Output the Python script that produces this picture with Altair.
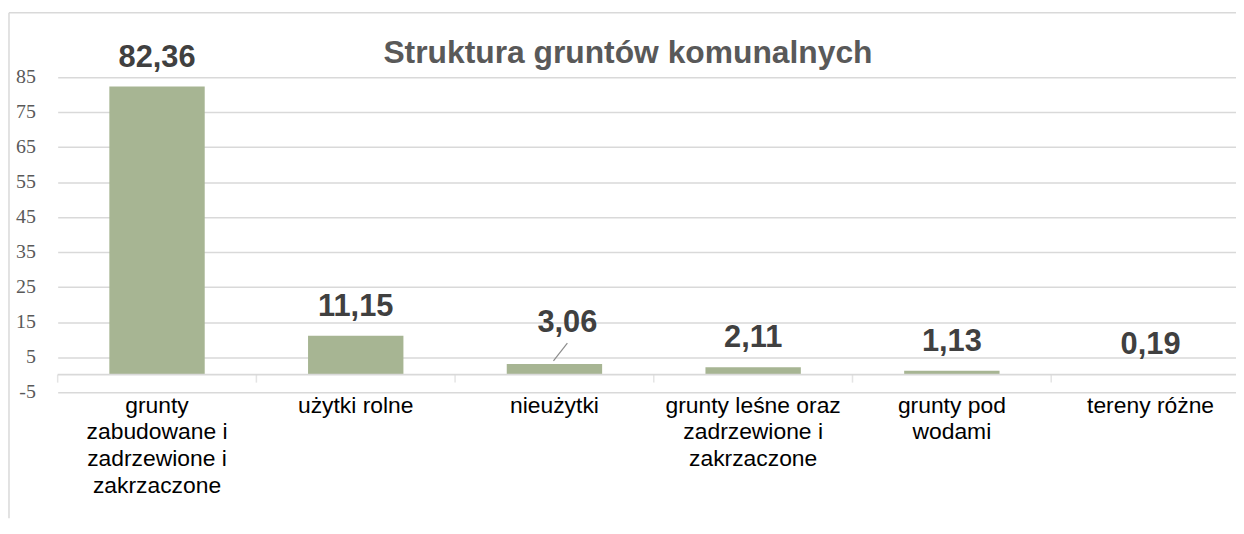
import altair as alt
import pandas as pd

# ---- data ----
categories = [
    "grunty|zabudowane i|zadrzewione i|zakrzaczone",
    "użytki rolne",
    "nieużytki",
    "grunty leśne oraz|zadrzewione i|zakrzaczone",
    "grunty pod|wodami",
    "tereny różne",
]
values = [82.36, 11.15, 3.06, 2.11, 1.13, 0.19]
y_ticks = [-5, 5, 15, 25, 35, 45, 55, 65, 75, 85]
title_text = "Struktura gruntów komunalnych"
moved_label = "nieużytki"

labels = [f"{v:.2f}".replace(".", ",") for v in values]
df = pd.DataFrame({"cat": categories, "val": values, "lbl": labels})
ytick_df = pd.DataFrame({"t": y_ticks, "s": [str(v) for v in y_ticks]})

W = 1186          # visible plot width
H = 317           # plot height
PAD_L, PAD_T, PAD_B = 50, 68, 127

GRID = "#d9d9d9"
BAR = "#a7b593"
SERIF = "Liberation Serif"

x_axis = alt.Axis(
    title=None, orient="bottom", domain=False, ticks=False, tickSize=0,
    grid=False, labelAngle=0, labelExpr="split(datum.label, '|')",
    labelFont="Liberation Sans", labelFontSize=23, labelColor="#000000",
    labelLineHeight=27, labelBaseline="alphabetic", labelPadding=20,
    labelLimit=400, labelAlign="center",
)
x_scale = alt.Scale(range=[0, 1200], paddingInner=0, paddingOuter=0)
x_enc = alt.X("cat:N", sort=categories, scale=x_scale, axis=x_axis)

y_axis = alt.Axis(
    title=None, values=y_ticks, tickCount=20, domain=False, ticks=False, tickSize=0,
    grid=True, gridColor=GRID, gridWidth=1.5, labels=False,
)
y_scale = alt.Scale(domain=[-5, 85], nice=False, zero=False)
y_enc = alt.Y("val:Q", scale=y_scale, axis=y_axis)

base = alt.Chart(df)

bars = base.mark_bar(width=96, color=BAR).encode(x=x_enc, y=y_enc, y2=alt.datum(0))

zero_df = pd.DataFrame({"z": [0]})
zero_line = alt.Chart(zero_df).mark_rule(color=GRID, strokeWidth=1.8).encode(
    y=alt.datum(0, scale=y_scale, axis=y_axis)
)

ticks = base.mark_tick(orient="vertical", size=8, thickness=1.5, yOffset=4, color=GRID).encode(
    x=alt.X("cat:N", sort=categories, bandPosition=0, scale=x_scale, axis=x_axis),
    y=alt.datum(0, scale=y_scale, axis=y_axis),
)

y_labels = alt.Chart(ytick_df).mark_text(
    font=SERIF, fontSize=20, color="#595959", align="right", baseline="middle"
).encode(
    y=alt.Y("t:Q", scale=y_scale, axis=y_axis), x=alt.value(-22), text="s:N"
)

label_style = dict(font="Liberation Sans", fontSize=31, fontWeight="bold",
                   color="#404040", baseline="alphabetic", align="center")

data_labels = base.transform_filter(
    alt.datum.cat != moved_label
).mark_text(dy=-20, **label_style).encode(x=x_enc, y=y_enc, text="lbl:N")

moved = base.transform_filter(
    alt.datum.cat == moved_label
).mark_text(dx=13, dy=-32, **label_style).encode(x=x_enc, y=y_enc, text="lbl:N")

leader = base.transform_filter(
    alt.datum.cat == moved_label
).mark_rule(color="#8c8c8c", strokeWidth=1.2, xOffset=-1, yOffset=-3,
            x2Offset=13, y2Offset=-21).encode(
    x=x_enc, x2="cat:N", y=y_enc, y2="val:Q"
)

title_df = pd.DataFrame({"t": [title_text]})
title = alt.Chart(title_df).mark_text(
    font="Liberation Sans", fontSize=32, fontWeight="bold", color="#595959",
    align="center", baseline="alphabetic",
).encode(x=alt.value(574), y=alt.value(-14), text="t:N")

frame_df = pd.DataFrame({"f": [0]})
frame_left = alt.Chart(frame_df).mark_rule(color=GRID, strokeWidth=1.5).encode(
    x=alt.value(-49), y=alt.value(-65), y2=alt.value(H + PAD_B)
)
frame_top = alt.Chart(frame_df).mark_rule(color=GRID, strokeWidth=1.5).encode(
    x=alt.value(-49), x2=alt.value(W), y=alt.value(-65)
)

chart = alt.layer(
    frame_left, frame_top, bars, zero_line, ticks, y_labels,
    data_labels, moved, leader, title
).properties(
    width=W, height=H,
    autosize=alt.AutoSizeParams(type="none"),
    padding={"left": PAD_L, "top": PAD_T, "right": 0, "bottom": PAD_B},
).configure_view(stroke=None).configure_axisY(
    domain=False, ticks=False, tickSize=0, gridColor=GRID, gridWidth=1.5,
).configure_axisX(
    labelFont="Liberation Sans", labelFontSize=23, labelColor="#000000",
    labelLineHeight=27, labelBaseline="alphabetic", labelPadding=20,
    labelLimit=400, domain=False, ticks=False, tickSize=0, grid=False,
)

chart.save("out.html", embed_options={"renderer": "svg", "actions": False})
